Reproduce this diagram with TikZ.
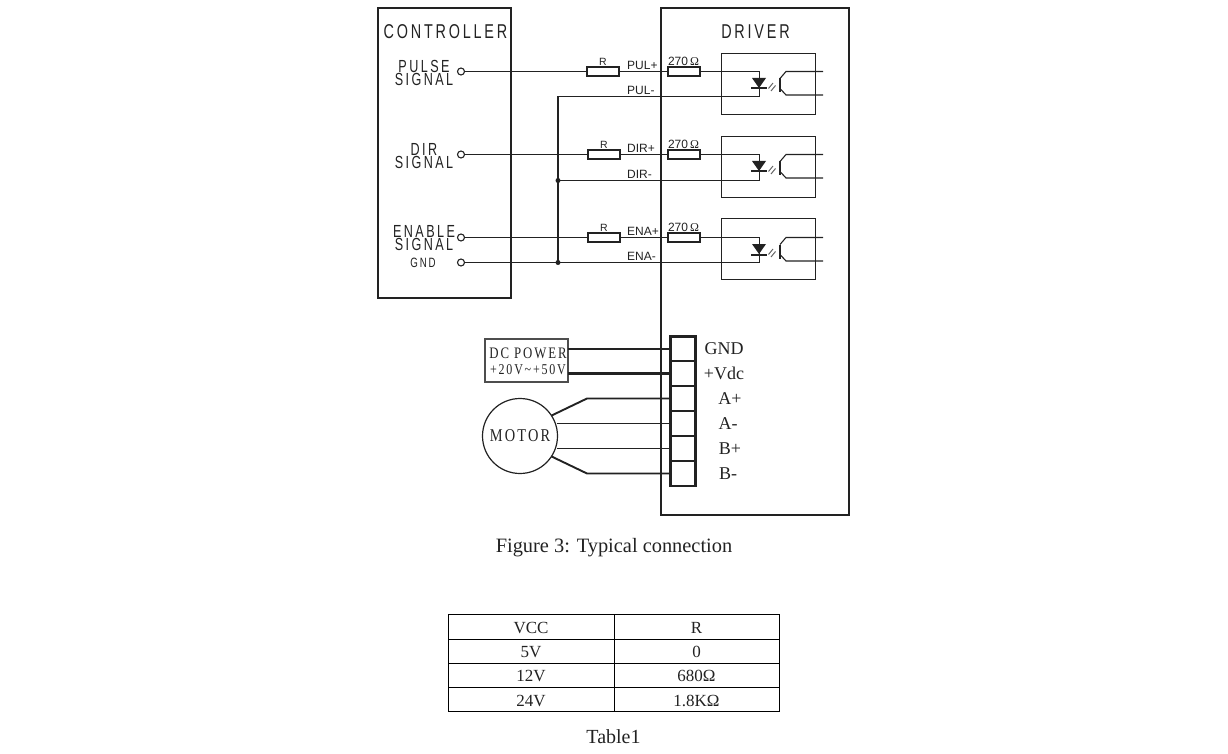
\documentclass[tikz,border=0pt]{standalone}
\usepackage{fontspec}
\setmainfont{Liberation Serif}
\newfontfamily\labelsf[FakeStretch=0.72,LetterSpace=14]{Liberation Sans}
\newfontfamily\labelrm[FakeStretch=0.8,LetterSpace=12]{Liberation Serif}
\newfontfamily\plainsf{Liberation Sans}
\definecolor{ink}{HTML}{222222}
\newcommand{\fsize}[1]{\fontsize{#1}{#1}\selectfont}
\tikzset{
  frame/.style={draw=ink,line width=2.8pt,inner sep=0pt,outer sep=0pt},
  part/.style={draw=ink,line width=1.1pt,fill=white,inner sep=0pt,outer sep=0pt,minimum width=32pt,minimum height=9pt},
  optobox/.style={draw=ink,line width=1.2pt,inner sep=0pt,outer sep=0pt,minimum width=94pt,minimum height=61pt},
  port/.style={circle,draw=ink,line width=1.1pt,fill=white,inner sep=0pt,outer sep=0pt,minimum size=7pt},
  joint/.style={circle,fill=ink,inner sep=0pt,minimum size=5pt},
  cell/.style={draw=ink,line width=2.4pt,fill=white,inner sep=0pt,outer sep=0pt,minimum width=25pt,minimum height=25pt},
  wire/.style={draw=ink,line width=1.2pt},
  heavy/.style={draw=ink,line width=2.6pt},
  motorwire/.style={draw=ink,line width=1.9pt},
  title/.style={text=ink,inner sep=0pt,font=\labelsf\fsize{20}},
  signal/.style={text=ink,inner sep=0pt,align=center,font=\labelsf\fontsize{17.5}{13}\selectfont},
  pin/.style={text=ink,inner sep=0pt,anchor=west,font=\plainsf\fsize{12}},
  termlabel/.style={text=ink,inner sep=0pt,font=\fsize{18}},
  tabletext/.style={text=ink,inner sep=0pt,font=\fsize{17}},
}
\begin{document}
\begin{tikzpicture}[x=1pt,y=-1pt]
\useasboundingbox (0,0) rectangle (1228,754);

% controller and driver
\node[frame,minimum width=133pt,minimum height=290pt] (controller) at (444.5,153) {};
\node[frame,minimum width=188pt,minimum height=507pt] (driver) at (755,261.5) {};
\node[title] (controllerlabel) at (445.5,32) {CONTROLLER};
\node[title] (driverlabel) at (755.5,32) {DRIVER};

\node[signal] (pulselabel) at (424,73) {PULSE\\SIGNAL};
\node[signal] (dirlabel) at (424,156) {DIR\\SIGNAL};
\node[signal] (enalabel) at (424,238.5) {ENABLE\\SIGNAL};
\node[text=ink,inner sep=0pt,font=\labelsf\fsize{13.5}] (gndlabel) at (423,263) {GND};

% signal rows
\foreach \n/\y/\low/\boxy/\rx/\lbl in {pul/71.5/96.5/84/603/PUL,dir/154.5/180.5/167/604/DIR,ena/237.5/262.5/249/604/ENA}{
  \node[port] (sig\n) at (461,\y) {};
  \node[part] (r\n) at (\rx,\y) {};
  \node[part] (s\n) at (684,\y) {};
  \node[optobox] (opto\n) at (768.5,\boxy) {};
  \coordinate (top\n) at (759.5,\y);
  \coordinate (bot\n) at (759.5,\low);
  \coordinate (ret\n) at (558,\low);
  \draw[wire] (sig\n) -- (r\n);
  \draw[wire] (r\n) -- (s\n);
  \draw[wire] (s\n) -- (top\n) -- (bot\n) -- (ret\n);
  \node[text=ink,inner sep=0pt,font=\plainsf\fsize{10.5}] (rlabel\n) at (\rx,\y-9.5) {R};
  \node[pin] (plus\n) at (627,\y-6) {\lbl+};
  \node[pin] (minus\n) at (627,\low-6.5) {\lbl-};
  \node[text=ink,inner sep=0pt,font=\plainsf\fsize{12}] (ohm\n) at (683.5,\y-10) {270\,{\fontspec{Liberation Serif}Ω}};
  % diode and transistor
  \fill[ink] (752,\y+6.5) -- (766,\y+6.5) -- (759,\y+16.5) -- cycle;
  \draw[ink,line width=2pt] (751,\y+17) -- (767,\y+17);
  \draw[ink!70,line width=1pt] (768.5,\y+17) -- (773,\y+11.5) (771,\y+19.5) -- (775.5,\y+14);
  \draw[ink,line width=1.4pt] (780,\y+7) -- (780,\y+21);
  \draw[ink,line width=1.1pt] (823,\y) -- (786,\y) -- (780,\y+7);
  \draw[ink,line width=1.1pt] (823,\y+23.5) -- (786,\y+23.5) -- (780,\y+17);
}
\node[port] (siggnd) at (461,262.5) {};
\draw[wire] (retpul) -- (retena);
\draw[wire] (siggnd) -- (retena);
\node[joint] (jointdir) at (retdir) {};
\node[joint] (jointena) at (retena) {};

% terminal block
\foreach \n/\y/\lbl/\lx in {gnd/349/GND/724,vdc/373.5/+Vdc/724,ap/398.5/A+/730,am/423.5/A-/728,bp/448.5/B+/730,bm/473.5/B-/728}{
  \node[cell] (t\n) at (683,\y) {};
  \node[termlabel] (tl\n) at (\lx,\y) {\lbl};
}

% power and motor
\node[draw=ink!80,line width=1.4pt,inner sep=0pt,outer sep=0pt,minimum width=83pt,minimum height=43pt] (power) at (526.5,360.5) {};
\node[text=ink,inner sep=0pt,font=\labelrm\fsize{16}] (powerlabel) at (528,353.5) {DC POWER};
\node[text=ink,inner sep=0pt,font=\labelrm\fsize{15}] (powerrange) at (528,370) {+20V\string~+50V};
\coordinate (powera) at (568,349);
\coordinate (powerb) at (568,373.5);
\draw[heavy] (powera) -- (powera -| tgnd.west);
\draw[heavy] (powerb) -- (tvdc.west);

\node[circle,draw=ink,line width=1.2pt,inner sep=0pt,outer sep=0pt,minimum size=75pt] (motor) at (520,436) {};
\node[text=ink,inner sep=0pt,font=\labelrm\fsize{18}] (motorlabel) at (520,436) {MOTOR};
\coordinate (benda) at (587,398.5);
\coordinate (bendb) at (587,473.5);
\coordinate (motorb) at (556.5,423.5);
\coordinate (motorc) at (557,448.5);
\draw[motorwire] (motor.33) -- (benda) -- (tap.west);
\draw[motorwire] (motorb) -- (tam.west);
\draw[motorwire] (motorc) -- (tbp.west);
\draw[motorwire] (motor.-33) -- (bendb) -- (tbm.west);

% caption and table
\node[inner sep=0pt,text=ink,font=\fsize{20.4}] (figcaption) at (614,548) {Figure 3: Typical connection};
\draw[black,line width=1pt] (448.5,614.5) rectangle (779.5,711.5);
\draw[black,line width=1pt] (614.5,614.5) -- (614.5,711.5);
\foreach \y in {639.5,663.5,687.5}
  \draw[black,line width=1pt] (448.5,\y) -- (779.5,\y);
\foreach \n/\y/\a/\b in {head/628/VCC/R,five/652/5V/0,twelve/676/12V/680Ω,twentyfour/700.5/24V/1.8KΩ}{
  \node[tabletext] (vcc\n) at (531,\y) {\a};
  \node[tabletext] (res\n) at (696.5,\y) {\b};
}
\node[inner sep=0pt,text=ink,font=\fsize{20}] (tablecaption) at (613.5,736.5) {Table1};
\end{tikzpicture}
\end{document}
